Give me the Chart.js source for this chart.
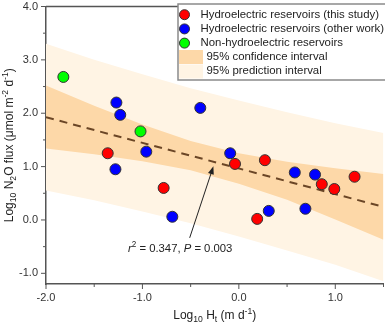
<!DOCTYPE html>
<html>
<head>
<meta charset="utf-8">
<script src="https://cdn.jsdelivr.net/npm/chart.js@4.4.0/dist/chart.umd.min.js"></script>
<style>
  body { margin: 0; overflow: hidden; background: #fff; }
  #wrap { width: 390px; height: 322px; }
</style>
</head>
<body>
<div id="wrap"><canvas id="chart"></canvas></div>
<script>
// values
var redX = [-1.36, -0.78, -0.04, 0.27, 0.86, 0.99, 1.20, 0.19];
var redY = [1.25, 0.60, 1.05, 1.12, 0.67, 0.58, 0.81, 0.02];
var blueX = [-1.27, -1.23, -1.28, -0.96, -0.69, -0.40, -0.09, 0.58, 0.79, 0.31, 0.69];
var blueY = [2.20, 1.97, 0.95, 1.28, 0.06, 2.10, 1.25, 0.89, 0.85, 0.17, 0.21];
var greenX = [-1.82, -1.02];
var greenY = [2.68, 1.66];

var fitX = [-2.0, 1.5];
var fitY = [1.925, 0.245];

var bandX = [-2.0, -1.5, -1.0, -0.5, 0.0, 0.5, 1.0, 1.5];
var ciUpper = [2.52, 2.14, 1.79, 1.48, 1.25, 1.09, 0.97, 0.86];
var ciLower = [1.34, 1.23, 1.10, 0.93, 0.68, 0.38, 0.01, -0.37];
var piUpper = [3.30, 3.00, 2.73, 2.47, 2.24, 2.02, 1.81, 1.63];
var piLower = [0.55, 0.37, 0.16, -0.06, -0.31, -0.57, -0.84, -1.15];

var xTicks = [-2.0, -1.5, -1.0, -0.5, 0.0, 0.5, 1.0, 1.5];
var yTicks = [-1.0, -0.5, 0.0, 0.5, 1.0, 1.5, 2.0, 2.5, 3.0, 3.5, 4.0];

var FONT = "'Liberation Sans', Arial, sans-serif";
var CI_COLOR = '#fdd8a8';
var PI_COLOR = '#fff4e4';

function pts(xs, ys) {
  return xs.map(function (x, i) { return { x: x, y: ys[i] }; });
}

function isMajor(v) {
  return Math.abs(v - Math.round(v)) < 1e-6;
}

// text with sub/superscripts: [text, 'sub'|'sup'|'it'|null]
function partFont(p, size) {
  var small = p[1] === 'sub' || p[1] === 'sup';
  return (p[1] === 'it' ? 'italic ' : '') + (small ? size * 0.72 : size) + 'px ' + FONT;
}

function richWidth(ctx, parts, size) {
  var w = 0;
  parts.forEach(function (p) {
    ctx.font = partFont(p, size);
    w += ctx.measureText(p[0]).width;
  });
  return w;
}

function drawRich(ctx, parts, x, y, size) {
  ctx.textBaseline = 'alphabetic';
  ctx.textAlign = 'left';
  parts.forEach(function (p) {
    ctx.font = partFont(p, size);
    var dy = p[1] === 'sub' ? size * 0.25 : (p[1] === 'sup' ? -size * 0.4 : 0);
    ctx.fillText(p[0], x, y + dy);
    x += ctx.measureText(p[0]).width;
  });
}

var decorPlugin = {
  id: 'decor',
  afterDatasetsDraw: function (chart) {
    var ctx = chart.ctx;
    var xs = chart.scales.x, ys = chart.scales.y;
    var area = chart.chartArea;
    ctx.save();

    // frame top line
    ctx.strokeStyle = '#555';
    ctx.lineWidth = 1.5;
    ctx.beginPath();
    ctx.moveTo(area.left, area.top);
    ctx.lineTo(area.right, area.top);
    ctx.stroke();

    // tick marks (outside, minor ones shorter)
    ctx.lineWidth = 1;
    yTicks.forEach(function (v) {
      var py = ys.getPixelForValue(v);
      var len = isMajor(v) ? 5 : 3;
      ctx.beginPath();
      ctx.moveTo(area.left - len, py);
      ctx.lineTo(area.left, py);
      ctx.stroke();
    });
    xTicks.forEach(function (v) {
      var px = xs.getPixelForValue(v);
      var len = isMajor(v) ? 5 : 3;
      ctx.beginPath();
      ctx.moveTo(px, area.bottom);
      ctx.lineTo(px, area.bottom + len);
      ctx.stroke();
    });

    // regression annotation + arrow
    ctx.fillStyle = '#222';
    drawRich(ctx, [['r', 'it'], ['2', 'sup'], [' = 0.347, ', null], ['P', 'it'], [' = 0.003', null]], 128, 252, 11.3);
    var tx = xs.getPixelForValue(-0.51), ty = ys.getPixelForValue(-0.335);
    var hx = xs.getPixelForValue(-0.264), hy = ys.getPixelForValue(1.005);
    var ang = Math.atan2(hy - ty, hx - tx);
    ctx.strokeStyle = '#222';
    ctx.lineWidth = 1;
    ctx.beginPath();
    ctx.moveTo(tx, ty);
    ctx.lineTo(hx - 5 * Math.cos(ang), hy - 5 * Math.sin(ang));
    ctx.stroke();
    ctx.beginPath();
    ctx.moveTo(hx, hy);
    ctx.lineTo(hx - 8 * Math.cos(ang) + 3 * Math.sin(ang), hy - 8 * Math.sin(ang) - 3 * Math.cos(ang));
    ctx.lineTo(hx - 8 * Math.cos(ang) - 3 * Math.sin(ang), hy - 8 * Math.sin(ang) + 3 * Math.cos(ang));
    ctx.closePath();
    ctx.fill();

    // legend
    ctx.fillStyle = '#fff';
    ctx.fillRect(178, 4, 220, 76);
    ctx.strokeStyle = '#8a8a8a';
    ctx.lineWidth = 1.5;
    ctx.strokeRect(178, 4, 220, 76);
    var rows = [
      ['#ff0000', 'Hydroelectric reservoirs (this study)'],
      ['#0000ff', 'Hydroelectric reservoirs (other work)'],
      ['#00ff00', 'Non-hydroelectric reservoirs']
    ];
    ctx.font = '11.4px ' + FONT;
    ctx.textBaseline = 'middle';
    rows.forEach(function (r, i) {
      var cy = 14.7 + i * 14.2;
      ctx.beginPath();
      ctx.arc(184.5, cy, 5, 0, Math.PI * 2);
      ctx.fillStyle = r[0];
      ctx.fill();
      ctx.strokeStyle = '#333';
      ctx.lineWidth = 1;
      ctx.stroke();
      ctx.fillStyle = '#222';
      ctx.fillText(r[1], 200.5, cy);
    });
    ctx.fillStyle = CI_COLOR;
    ctx.fillRect(179, 50, 24, 14);
    ctx.fillStyle = PI_COLOR;
    ctx.fillRect(179, 64.5, 24, 14);
    ctx.fillStyle = '#222';
    ctx.fillText('95% confidence interval', 206.5, 57.3);
    ctx.fillText('95% prediction interval', 206.5, 71.3);

    // axis titles
    ctx.fillStyle = '#222';
    var xt = [['Log', null], ['10', 'sub'], [' H', null], ['t', 'sub'], [' (m d', null], ['-1', 'sup'], [')', null]];
    var xw = richWidth(ctx, xt, 12);
    drawRich(ctx, xt, (area.left + area.right) / 2 - xw / 2, 319, 12);

    var yt = [['Log', null], ['10', 'sub'], [' N', null], ['2', 'sub'], ['O flux (\u03bcmol m', null], ['-2', 'sup'], [' d', null], ['-1', 'sup'], [')', null]];
    var yw = richWidth(ctx, yt, 12);
    ctx.translate(13, (area.top + area.bottom) / 2);
    ctx.rotate(-Math.PI / 2);
    drawRich(ctx, yt, -yw / 2, 0, 12);

    ctx.restore();
  }
};

var markerOpts = { pointRadius: 5.5, pointHoverRadius: 5.5, pointBorderColor: '#333', pointBorderWidth: 1, showLine: false, order: 10 };

new Chart(document.getElementById('chart'), {
  type: 'scatter',
  data: {
    datasets: [
      { data: pts(bandX, piUpper), showLine: true, pointRadius: 0, borderWidth: 0, fill: '+1', backgroundColor: PI_COLOR, order: 40 },
      { data: pts(bandX, piLower), showLine: true, pointRadius: 0, borderWidth: 0, fill: false, order: 40 },
      { data: pts(bandX, ciUpper), showLine: true, pointRadius: 0, borderWidth: 0, fill: '+1', backgroundColor: CI_COLOR, order: 30 },
      { data: pts(bandX, ciLower), showLine: true, pointRadius: 0, borderWidth: 0, fill: false, order: 30 },
      { data: pts(fitX, fitY), showLine: true, pointRadius: 0, borderColor: '#6b4626', borderWidth: 2, borderDash: [8, 6], fill: false, order: 20 },
      Object.assign({ data: pts(redX, redY), backgroundColor: '#ff0000' }, markerOpts),
      Object.assign({ data: pts(blueX, blueY), backgroundColor: '#0000ff' }, markerOpts),
      Object.assign({ data: pts(greenX, greenY), backgroundColor: '#00ff00' }, markerOpts)
    ]
  },
  options: {
    responsive: true,
    maintainAspectRatio: false,
    animation: false,
    layout: { padding: { top: 3, right: 3, left: 0, bottom: 0 } },
    plugins: { legend: { display: false }, tooltip: { enabled: false } },
    scales: {
      x: {
        min: -2.0,
        max: 1.5,
        afterBuildTicks: function (scale) { scale.ticks = xTicks.map(function (v) { return { value: v }; }); },
        afterFit: function (scale) { scale.height = 38; scale.paddingLeft = 0; scale.paddingRight = 0; },
        grid: { display: false, drawTicks: false },
        border: { display: true, color: '#555', width: 1.5 },
        ticks: {
          padding: 7,
          maxRotation: 0,
          autoSkip: false,
          color: '#333',
          font: { family: FONT, size: 11 },
          callback: function (v) { return isMajor(v) ? v.toFixed(1) : ''; }
        }
      },
      y: {
        min: -1.2,
        max: 4.0,
        afterBuildTicks: function (scale) { scale.ticks = yTicks.map(function (v) { return { value: v }; }); },
        afterFit: function (scale) { scale.width = 46; scale.paddingTop = 0; scale.paddingBottom = 0; },
        grid: { display: false, drawTicks: false },
        border: { display: true, color: '#555', width: 1.5 },
        ticks: {
          padding: 8,
          autoSkip: false,
          color: '#333',
          font: { family: FONT, size: 11 },
          callback: function (v) { return isMajor(v) ? v.toFixed(1) : ''; }
        }
      }
    }
  },
  plugins: [decorPlugin]
});
</script>
</body>
</html>
